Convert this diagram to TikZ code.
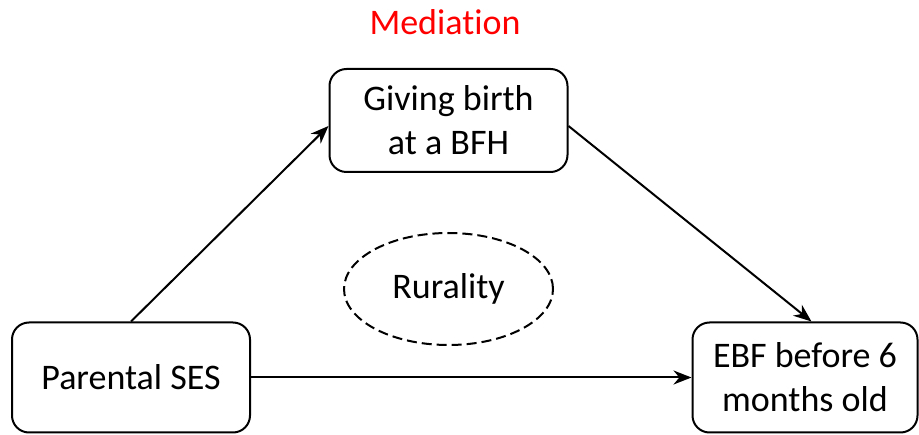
\documentclass[tikz,border=0pt]{standalone}
\usepackage{fontspec}
\setmainfont[Ligatures=NoCommon]{Carlito}
\usetikzlibrary{shapes.geometric,arrows.meta,calc}
\begin{document}
\begin{tikzpicture}[x=1pt,y=-1pt,
  box/.style={draw,line width=2pt,rounded corners=17pt,align=center,inner sep=0pt,font=\fontsize{36}{44}\selectfont},
  arr/.style={line width=2pt,-{Stealth[length=18pt,width=14pt]}},
  lbl/.style={font=\fontsize{36}{44}\selectfont}]
\useasboundingbox (0,0) rectangle (919,435);
\node[lbl,text=red] (med) at (445,22) {Mediation};
\node[box,minimum width=238pt,minimum height=103pt] (bfh) at (448.5,120.5) {Giving birth\\at a BFH};
\node[box,minimum width=238pt,minimum height=110pt] (ses) at (131,377.5) {Parental SES};
\node[box,minimum width=225pt,minimum height=110pt] (ebf) at (805,377.5) {EBF before 6\\months old};
\node[draw,dash pattern=on 10pt off 5pt,line width=2pt,ellipse,minimum width=209pt,minimum height=112pt,lbl,inner sep=0pt] (rur) at (448.5,289) {Rurality};
\draw[arr] ($(ses.north west)+(120,0)$) -- ($(bfh.west)+(0,5.5)$);
\draw[arr] ($(bfh.east)+(0,5.5)$) -- ($(ebf.north west)+(120,0)$);
\draw[arr] (ses.east) -- (ebf.west);
\end{tikzpicture}
\end{document}
